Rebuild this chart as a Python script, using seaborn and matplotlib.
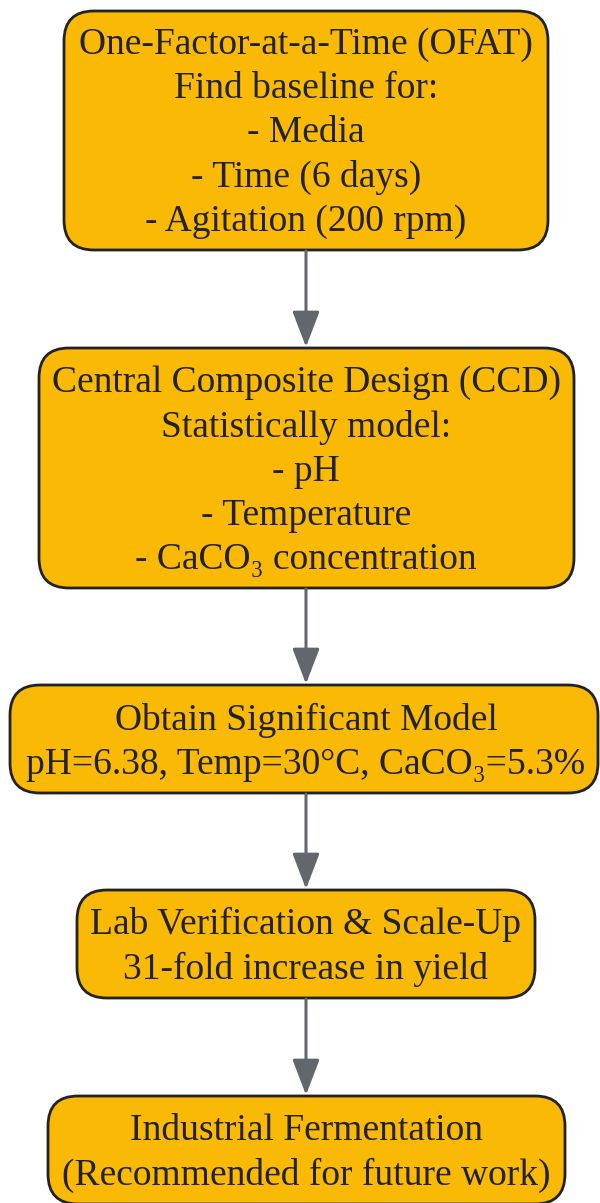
import matplotlib
matplotlib.use("Agg")
import matplotlib.pyplot as plt
from matplotlib.patches import FancyBboxPatch
import seaborn as sns

# flowchart steps (top to bottom)
steps = [
    "One-Factor-at-a-Time (OFAT)\nFind baseline for:\n- Media\n- Time (6 days)\n- Agitation (200 rpm)",
    "Central Composite Design (CCD)\nStatistically model:\n- pH\n- Temperature\n- CaCO\u2083 concentration",
    "Obtain Significant Model\npH=6.38, Temp=30\u00b0C, CaCO\u2083=5.3%",
    "Lab Verification & Scale-Up\n31-fold increase in yield",
    "Industrial Fermentation\n(Recommended for future work)",
]

# box layout in pixels: (left, right, top, bottom)
boxes = [
    (63, 549, 10, 251),
    (38, 575, 347, 589),
    (9, 599, 684, 794),
    (76, 536, 889, 999),
    (47, 566, 1095, 1205),
]

fill = "#F9B905"
edge = "#222222"
arrow_col = "#63666C"

sns.set_theme(style="white")
plt.rcParams["font.family"] = ["Liberation Serif", "DejaVu Serif"]

fig = plt.figure(figsize=(6, 12.03), dpi=100)
ax = fig.add_axes([0, 0, 1, 1])
ax.set_xlim(0, 600)
ax.set_ylim(1203, 0)
ax.axis("off")

cx = 306
for label, (l, r, t, b) in zip(steps, boxes):
    patch = FancyBboxPatch((l + 1, t + 1), r - l - 2, b - t - 2,
                           boxstyle="round,pad=0,rounding_size=30",
                           facecolor=fill, edgecolor=edge, linewidth=2)
    ax.add_patch(patch)
    ax.text(cx, (t + b) / 2 + 3, label, ha="center", va="center",
            fontsize=27, color="#222222", linespacing=1.36)

for (_, _, _, b1), (_, _, t2, _) in zip(boxes[:-1], boxes[1:]):
    ax.annotate("", xy=(cx, t2), xytext=(cx, b1),
                arrowprops=dict(arrowstyle="-|>,head_length=1.1,head_width=0.42",
                                mutation_scale=20, color=arrow_col, lw=2.2,
                                shrinkA=0, shrinkB=0))

fig.savefig("out.png", dpi=100)
